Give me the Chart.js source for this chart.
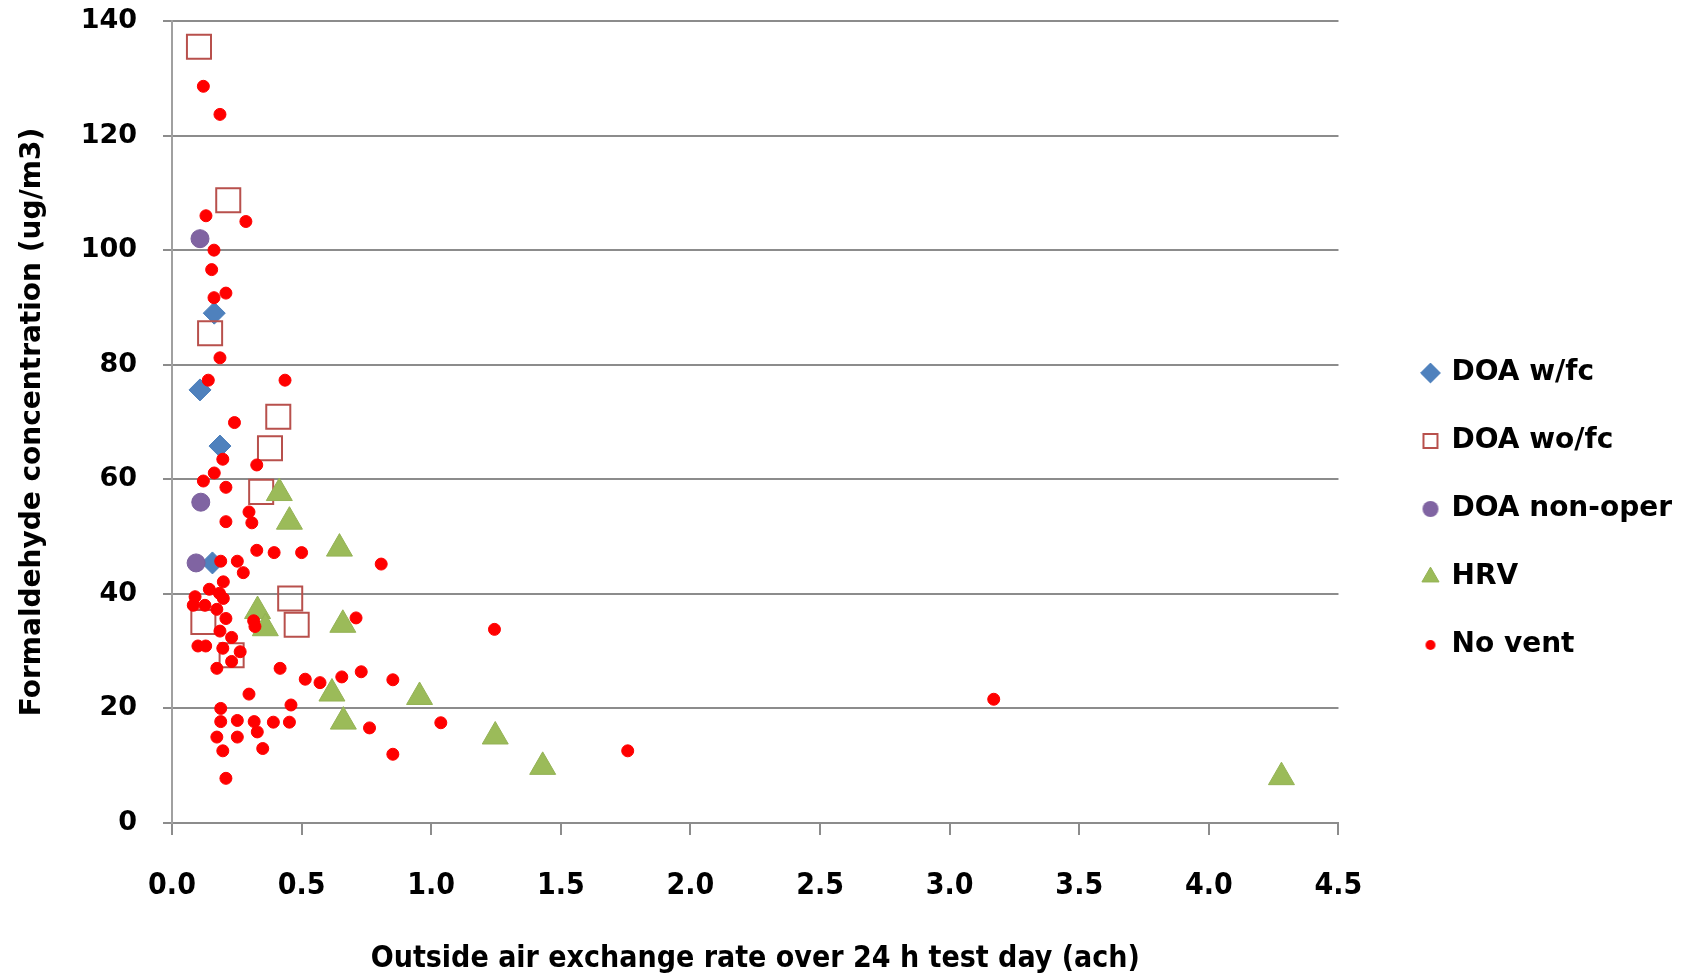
<!DOCTYPE html>
<html>
<head>
<meta charset="utf-8">
<script src="https://cdn.jsdelivr.net/npm/chart.js@4/dist/chart.umd.min.js"></script>
<style>
  html, body { margin: 0; padding: 0; background: #fff; }
</style>
</head>
<body>
<canvas id="chart" width="1690" height="977"></canvas>
<script>
// Formaldehyde vs outside air exchange rate.

const xTicks = [0, 0.5, 1.0, 1.5, 2.0, 2.5, 3.0, 3.5, 4.0, 4.5];
const yTicks = [0, 20, 40, 60, 80, 100, 120, 140];

const doaFcX = [0.163, 0.108, 0.185, 0.156];
const doaFcY = [89, 75.6, 65.8, 45.4];

const doaNoFcX = [0.104, 0.217, 0.147, 0.41, 0.378, 0.344, 0.456, 0.481, 0.121, 0.23];
const doaNoFcY = [135.5, 108.7, 85.5, 70.9, 65.4, 57.8, 39.2, 34.6, 35.1, 29.3];

const doaOffX = [0.108, 0.111, 0.093];
const doaOffY = [102, 56, 45.4];

const hrvX = [0.414, 0.453, 0.646, 0.33, 0.36, 0.659, 0.617, 0.661, 0.955, 1.247, 1.43, 4.28];
const hrvY = [57.6, 52.6, 47.9, 37, 34, 34.6, 22.6, 17.7, 22, 15.1, 9.8, 8];

const noVentX = [0.121, 0.185, 0.131, 0.285, 0.162, 0.153, 0.208, 0.162, 0.185, 0.14,
                 0.436, 0.241, 0.196, 0.327, 0.163, 0.121, 0.208, 0.297, 0.308, 0.208,
                 0.327, 0.394, 0.5, 0.807, 0.188, 0.252, 0.275, 0.198, 0.144, 0.183,
                 0.089, 0.198, 0.082, 0.127, 0.173, 0.208, 0.71, 0.32, 0.315, 0.185,
                 0.23, 0.1, 0.13, 0.196, 0.263, 0.23, 0.173, 0.417, 0.514, 0.571,
                 0.655, 0.73, 0.852, 0.297, 0.459, 0.188, 0.188, 0.252, 0.317, 0.391,
                 0.453, 0.329, 0.252, 0.173, 0.762, 0.196, 0.35, 0.852, 0.208, 1.244,
                 1.037, 1.758, 3.17];
const noVentY = [128.6, 123.7, 106, 105, 100, 96.6, 92.5, 91.7, 81.2, 77.3,
                 77.3, 69.9, 63.5, 62.5, 61.1, 59.7, 58.6, 54.3, 52.4, 52.6,
                 47.6, 47.2, 47.2, 45.2, 45.7, 45.7, 43.7, 42.1, 40.8, 40.1,
                 39.5, 39.2, 38, 38, 37.3, 35.7, 35.8, 34.3, 35.3, 33.5,
                 32.4, 30.9, 30.9, 30.5, 29.9, 28.2, 27, 27, 25.1, 24.5,
                 25.5, 26.4, 25, 22.5, 20.6, 20, 17.7, 17.9, 17.7, 17.6,
                 17.6, 15.9, 15, 15, 16.6, 12.6, 13, 12, 7.8, 33.8,
                 17.5, 12.6, 21.6];

const FONT = "'DejaVu Sans', 'Verdana', sans-serif";
const NARROW = "'DejaVu Sans Condensed', 'DejaVu Sans', sans-serif";

function pts(xs, ys) {
  return xs.map((x, i) => ({ x, y: ys[i] }));
}

function series(label, xs, ys, style, radius, fill, stroke, width, order) {
  return {
    label,
    data: pts(xs, ys),
    pointStyle: style,
    pointRadius: radius,
    pointHoverRadius: radius,
    backgroundColor: fill,
    borderColor: stroke,
    borderWidth: width,
    showLine: false,
    order,
  };
}

// small round legend swatch, legend circles are otherwise all one size
function dot(color, r) {
  const c = document.createElement('canvas');
  c.width = c.height = 2 * r + 2;
  const g = c.getContext('2d');
  g.fillStyle = color;
  g.beginPath();
  g.arc(r + 1, r + 1, r, 0, Math.PI * 2);
  g.fill();
  return c;
}

const datasets = [
  series('DOA w/fc',     doaFcX,   doaFcY,   'rectRot',  11, '#4F81BD', '#4A7EBB', 1, 5),
  series('DOA wo/fc',    doaNoFcX, doaNoFcY, 'rect',     17, 'rgba(255,255,255,0)', '#B8504C', 2, 4),
  series('DOA non-oper', doaOffX,  doaOffY,  'circle',    9, '#8064A2', '#7A5F9C', 1, 3),
  series('HRV',          hrvX,     hrvY,     'triangle', 15, '#9BBB59', '#94B255', 1, 2),
  series('No vent',      noVentX,  noVentY,  'circle',    6, '#FF0000', '#FF0000', 1, 1),
];

const legendDots = { 'DOA non-oper': dot('#8064A2', 8), 'No vent': dot('#FF0000', 5) };

const ctx = document.getElementById('chart').getContext('2d');

new Chart(ctx, {
  type: 'scatter',
  data: { datasets },
  options: {
    responsive: false,
    animation: false,
    events: [],
    layout: { padding: { left: 0, right: 8, top: 21, bottom: 0 } },
    scales: {
      x: {
        type: 'linear',
        min: 0,
        max: 4.5,
        afterBuildTicks: (s) => { s.ticks = xTicks.map(v => ({ value: v })); },
        afterFit: (s) => { s.height = 154; },
        ticks: {
          color: '#000',
          padding: 33,
          font: { family: NARROW, size: 30, weight: 'bold' },
          callback: (v) => Number(v).toFixed(1),
        },
        grid: { drawOnChartArea: false, drawTicks: true, tickLength: 12, color: '#8c8c8c', lineWidth: 2 },
        border: { color: '#8c8c8c', width: 2 },
        title: {
          display: true,
          text: 'Outside air exchange rate over 24 h test day (ach)',
          color: '#000',
          font: { family: NARROW, size: 30, weight: 'bold' },
          padding: { top: 0, bottom: 0 },
        },
      },
      y: {
        type: 'linear',
        min: 0,
        max: 140,
        afterBuildTicks: (s) => { s.ticks = yTicks.map(v => ({ value: v })); },
        afterFit: (s) => { s.width = 172; s.paddingTop = 0; s.paddingBottom = 0; },
        ticks: {
          color: '#000',
          padding: 26,
          font: { family: FONT, size: 27, weight: 'bold' },
        },
        grid: { color: '#8c8c8c', lineWidth: 2, tickLength: 9 },
        border: { color: '#a0a0a0', width: 2 },
        title: {
          display: true,
          text: 'Formaldehyde concentration (ug/m3)',
          color: '#000',
          font: { family: FONT, size: 28, weight: 'bold' },
          padding: { top: 16, bottom: 0 },
        },
      },
      // empty right-hand axis, only keeps a gap between plot and legend
      gap: {
        type: 'linear',
        position: 'right',
        afterFit: (s) => { s.width = 45; },
        ticks: { display: false },
        grid: { display: false },
        border: { display: false },
      },
    },
    plugins: {
      tooltip: { enabled: false },
      legend: {
        position: 'right',
        align: 'center',
        maxWidth: 400,
        title: { display: true, text: '', font: { size: 10 }, padding: 4 },
        labels: {
          usePointStyle: true,
          boxWidth: 14,
          boxHeight: 14,
          padding: 40,
          color: '#000',
          font: { family: FONT, size: 28, weight: 'bold' },
          sort: (a, b) => a.datasetIndex - b.datasetIndex,
          generateLabels: (chart) => {
            const items = Chart.defaults.plugins.legend.labels.generateLabels(chart);
            items.forEach(it => { if (legendDots[it.text]) it.pointStyle = legendDots[it.text]; });
            return items;
          },
        },
      },
    },
  },
});
</script>
</body>
</html>
